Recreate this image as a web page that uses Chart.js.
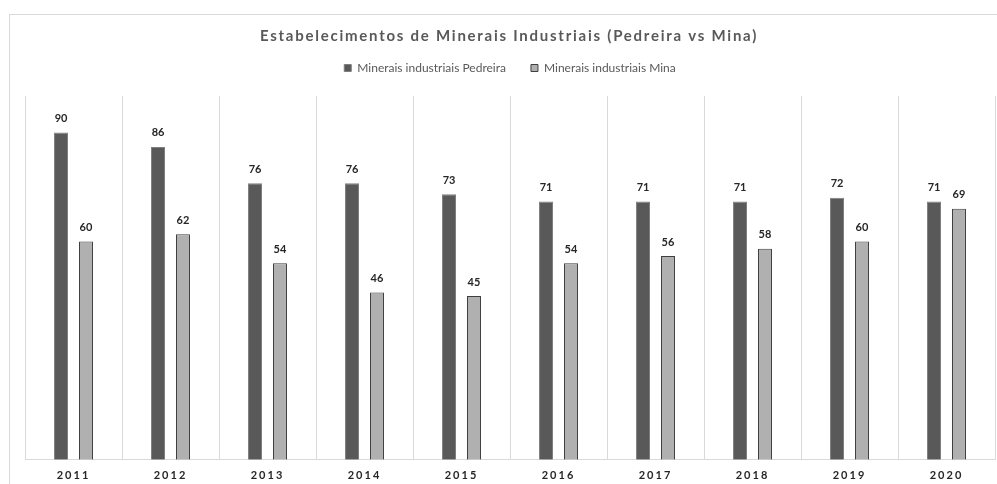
<!DOCTYPE html>
<html>
<head>
<meta charset="utf-8">
<script src="https://cdn.jsdelivr.net/npm/chart.js@4"></script>
<style>
  html, body { margin: 0; padding: 0; background: #fff; }
  #wrap { position: relative; width: 997px; height: 484px; }
  #frame { position: absolute; left: 9px; top: 14px; right: 0; bottom: 0;
           border-left: 1px solid #d9d9d9; border-top: 1px solid #d9d9d9; pointer-events: none; }
</style>
</head>
<body>
<div id="wrap">
  <canvas id="chart" width="997" height="484"></canvas>
  <div id="frame"></div>
</div>
<script>
// chart data
const years = ["2011", "2012", "2013", "2014", "2015", "2016", "2017", "2018", "2019", "2020"];
const pedreira = [90, 86, 76, 76, 73, 71, 71, 71, 72, 71];
const mina = [60, 62, 54, 46, 45, 54, 56, 58, 60, 69];
const titleText = "Estabelecimentos de Minerais Industriais (Pedreira vs Mina)";

// title drawn with letter spacing (Excel style)
const spacedTitle = {
  id: "spacedTitle",
  afterDraw(chart) {
    const ctx = chart.ctx;
    ctx.save();
    ctx.font = "bold 15px Lato";
    ctx.fillStyle = "#595959";
    ctx.textAlign = "center";
    ctx.textBaseline = "middle";
    ctx.letterSpacing = "1.75px";
    ctx.fillText(titleText, 509, 36);
    ctx.restore();
  },
};

// extra room under the legend
const legendGap = {
  id: "legendGap",
  beforeInit(chart) {
    const fit = chart.legend.fit;
    chart.legend.fit = function () {
      fit.bind(chart.legend)();
      this.height += 12;
    };
  },
};

// value labels above bars, then spacing for the x tick layer (z: 1)
const valueLabels = {
  id: "valueLabels",
  afterDatasetsDraw(chart) {
    const ctx = chart.ctx;
    ctx.save();
    ctx.font = "bold 11px Lato";
    ctx.fillStyle = "#262626";
    ctx.textAlign = "center";
    ctx.textBaseline = "middle";
    chart.data.datasets.forEach((ds, i) => {
      chart.getDatasetMeta(i).data.forEach((bar, j) => {
        ctx.fillText(ds.data[j], bar.x, bar.y - 14);
      });
    });
    ctx.restore();
    ctx.letterSpacing = "2px";
  },
  afterDraw(chart) {
    chart.ctx.letterSpacing = "0px";
  },
};

new Chart(document.getElementById("chart").getContext("2d"), {
  type: "bar",
  data: {
    labels: years,
    datasets: [
      {
        label: "Minerais industriais Pedreira",
        data: pedreira,
        backgroundColor: "#595959",
        borderColor: "#7f7f7f",
        borderWidth: 1,
      },
      {
        label: "Minerais industriais Mina",
        data: mina,
        backgroundColor: "#b0b0b0",
        borderColor: "#3f3f3f",
        borderWidth: 1,
      },
    ],
  },
  options: {
    responsive: false,
    animation: false,
    layout: { padding: { top: 37, left: 25, right: 2, bottom: -7 } },
    datasets: { bar: { categoryPercentage: 0.515, barPercentage: 0.56 } },
    plugins: {
      title: { display: false },
      tooltip: { enabled: false },
      legend: {
        position: "top",
        labels: {
          boxWidth: 7,
          boxHeight: 7,
          padding: 25,
          color: "#595959",
          font: { family: "Lato", size: 12 },
        },
      },
    },
    scales: {
      x: {
        grid: { color: "#d9d9d9", drawTicks: false, offset: true },
        border: { color: "#d9d9d9" },
        ticks: { z: 1, padding: 9, color: "#262626", font: { family: "Lato", size: 11, weight: "bold" } },
      },
      y: { display: false, min: 0, max: 100 },
    },
  },
  plugins: [spacedTitle, legendGap, valueLabels],
});
</script>
</body>
</html>
